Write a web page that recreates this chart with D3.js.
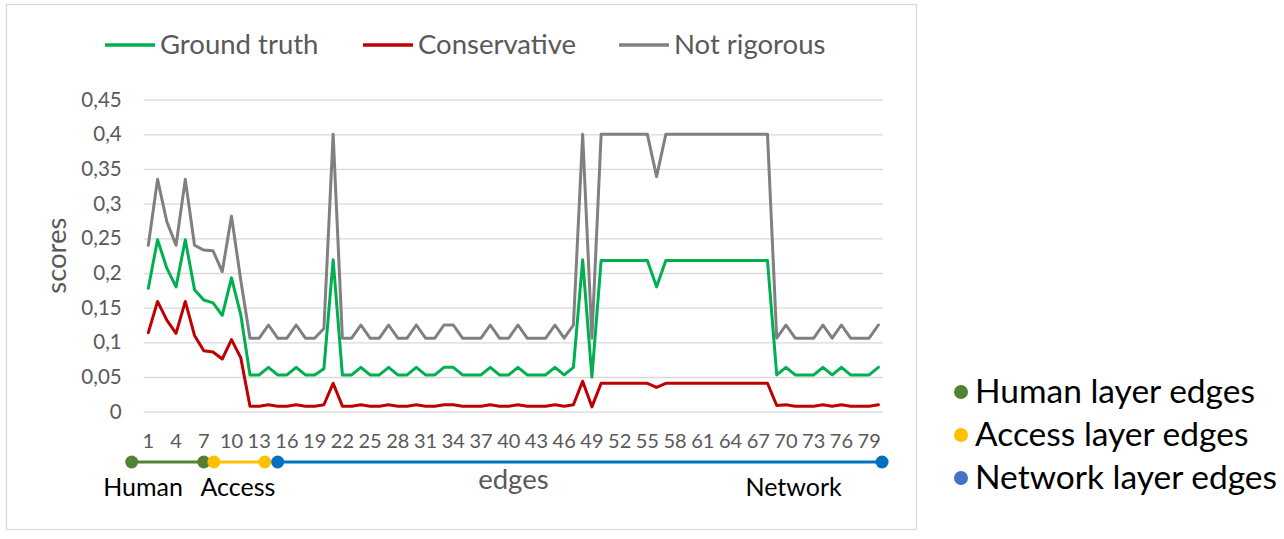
<!DOCTYPE html>
<html><head><meta charset="utf-8">
<script src="https://cdn.jsdelivr.net/npm/d3@7"></script>
<style>
body{margin:0;background:#fff;}
svg{display:block;}
text{font-family:Lato, "Open Sans", sans-serif;}
</style>
</head><body>
<svg id="c" width="1284" height="539"></svg>
<script>
// ---------- data ----------
const edges = [1,2,3,4,5,6,7,8,9,10,11,12,13,14,15,16,17,18,19,20,
  21,22,23,24,25,26,27,28,29,30,31,32,33,34,35,36,37,38,39,40,
  41,42,43,44,45,46,47,48,49,50,51,52,53,54,55,56,57,58,59,60,
  61,62,63,64,65,66,67,68,69,70,71,72,73,74,75,76,77,78,79,80];
const xTickLabels = [1,4,7,10,13,16,19,22,25,28,31,34,37,40,43,46,49,52,55,58,61,64,67,70,73,76,79];
const yTicks = [0,0.05,0.1,0.15,0.2,0.25,0.3,0.35,0.4,0.45];
const yTickLabels = ["0","0,05","0,1","0,15","0,2","0,25","0,3","0,35","0,4","0,45"];

const groundTruth = [0.178,0.248,0.207,0.180,0.248,0.176,0.161,0.157,0.139,0.193,
  0.140,0.053,0.053,0.064,0.053,0.053,0.064,0.053,0.053,0.062,
  0.219,0.053,0.053,0.064,0.053,0.053,0.064,0.053,0.053,0.064,
  0.053,0.053,0.064,0.064,0.053,0.053,0.053,0.064,0.053,0.053,
  0.064,0.053,0.053,0.053,0.064,0.053,0.064,0.219,0.050,0.218,
  0.218,0.218,0.218,0.218,0.218,0.180,0.218,0.218,0.218,0.218,
  0.218,0.218,0.218,0.218,0.218,0.218,0.218,0.218,0.053,0.064,
  0.053,0.053,0.053,0.064,0.053,0.064,0.053,0.053,0.053,0.064];
const conservative = [0.114,0.159,0.132,0.113,0.159,0.110,0.088,0.086,0.076,0.104,
  0.078,0.008,0.008,0.010,0.008,0.008,0.010,0.008,0.008,0.010,
  0.041,0.008,0.008,0.010,0.008,0.008,0.010,0.008,0.008,0.010,
  0.008,0.008,0.010,0.010,0.008,0.008,0.008,0.010,0.008,0.008,
  0.010,0.008,0.008,0.008,0.010,0.008,0.010,0.044,0.007,0.041,
  0.041,0.041,0.041,0.041,0.041,0.035,0.041,0.041,0.041,0.041,
  0.041,0.041,0.041,0.041,0.041,0.041,0.041,0.041,0.009,0.010,
  0.008,0.008,0.008,0.010,0.008,0.010,0.008,0.008,0.008,0.010];
const notRigorous = [0.240,0.335,0.274,0.240,0.335,0.240,0.233,0.232,0.202,0.282,
  0.190,0.106,0.106,0.125,0.106,0.106,0.125,0.106,0.106,0.120,
  0.400,0.106,0.106,0.125,0.106,0.106,0.125,0.106,0.106,0.125,
  0.106,0.106,0.125,0.125,0.106,0.106,0.106,0.125,0.106,0.106,
  0.125,0.106,0.106,0.106,0.125,0.106,0.125,0.400,0.106,0.400,
  0.400,0.400,0.400,0.400,0.400,0.339,0.400,0.400,0.400,0.400,
  0.400,0.400,0.400,0.400,0.400,0.400,0.400,0.400,0.106,0.125,
  0.106,0.106,0.106,0.125,0.106,0.125,0.106,0.106,0.106,0.125];

const seriesNames = ["Ground truth","Conservative","Not rigorous"];
const seriesColors = ["#00B050","#C00000","#808080"];

// layer annotation (in edge-index units)
const layerNames = ["Human","Access","Network"];
const layerStart = [-0.8, 8.1, 15];
const layerEnd = [7, 13.6, 80.4];
const layerLabelAt = [0.43, 10.7, 70.83];
const layerBarColors = ["#548235","#FFC000","#0070C0"];
const layerLegend = ["Human layer edges","Access layer edges","Network layer edges"];
const layerLegendColors = ["#548235","#FFC000","#4472C4"];

// ---------- layout ----------
const svg = d3.select("#c");
const L = 143.7, R = 883, T = 99.6, B = 411.7;

svg.append("rect").attr("x",6.5).attr("y",4.5).attr("width",910).attr("height",525)
  .attr("fill","#fff").attr("stroke","#D9D9D9").attr("stroke-width",1.3);

const x = d3.scaleBand().domain(edges).range([L,R]).padding(0);
const xc = d => x(d) + x.bandwidth()/2;
const y = d3.scaleLinear().domain([0,0.45]).range([B,T]);
const xLin = d3.scaleLinear().domain([1,80]).range([xc(1), xc(80)]);

// gridlines via axis
const yAxis = svg.append("g").attr("transform",`translate(${L},0)`)
  .call(d3.axisLeft(y).tickValues(yTicks).tickSize(-(R-L)).tickFormat((d,i)=>yTickLabels[i]));
yAxis.select(".domain").remove();
yAxis.selectAll(".tick line").attr("stroke","#D9D9D9").attr("stroke-width",1.3);
yAxis.selectAll(".tick text").attr("x",-22).attr("fill","#595959")
  .style("font-size","20.5px").style("font-family","Lato");

// x axis labels
const xAxis = svg.append("g").attr("transform",`translate(0,${B})`)
  .call(d3.axisBottom(x).tickValues(xTickLabels).tickSize(0).tickPadding(0));
xAxis.select(".domain").remove();
xAxis.selectAll(".tick text").attr("y",22).attr("dy","0.71em").attr("fill","#595959")
  .style("font-size","20px").style("font-family","Lato");

// lines
const data = [groundTruth, conservative, notRigorous];
const line = d3.line().x((d,i)=>xc(edges[i])).y(d=>y(d));
data.forEach((s,k)=>{
  svg.append("path").datum(s).attr("d",line).attr("fill","none")
    .attr("stroke",seriesColors[k]).attr("stroke-width",3)
    .attr("stroke-linejoin","round").attr("stroke-linecap","round");
});

// top legend
const legX = [105, 363, 619];
seriesNames.forEach((n,k)=>{
  const g = svg.append("g");
  g.append("line").attr("x1",legX[k]).attr("x2",legX[k]+50).attr("y1",45).attr("y2",45)
    .attr("stroke",seriesColors[k]).attr("stroke-width",3.5);
  g.append("text").attr("x",legX[k]+55).attr("y",54).text(n)
    .attr("fill","#595959").style("font-size","27.5px");
});

// y title
svg.append("text").attr("transform",`translate(66,${(T+B)/2}) rotate(-90)`)
  .attr("text-anchor","middle").attr("fill","#595959").style("font-size","27.5px").text("scores");

// x title
svg.append("text").attr("x",(L+R)/2).attr("y",489).attr("text-anchor","middle")
  .attr("fill","#595959").style("font-size","27.5px").text("edges");

// layer bar
const barY = 462;
layerNames.forEach((n,k)=>{
  svg.append("line").attr("x1",xLin(layerStart[k])).attr("x2",xLin(layerEnd[k]))
    .attr("y1",barY).attr("y2",barY).attr("stroke",layerBarColors[k]).attr("stroke-width",3);
});
layerNames.forEach((n,k)=>{
  [layerStart[k], layerEnd[k]].forEach(v=>{
    svg.append("circle").attr("cx",xLin(v)).attr("cy",barY).attr("r",6.5).attr("fill",layerBarColors[k]);
  });
  svg.append("text").attr("x",xLin(layerLabelAt[k])).attr("y",496).attr("text-anchor","middle")
    .attr("fill","#000").style("font-size","25px").text(n);
});

// right legend
const rBase = [403, 446, 489];
layerLegend.forEach((n,k)=>{
  svg.append("circle").attr("cx",961).attr("cy",rBase[k]-11).attr("r",7).attr("fill",layerLegendColors[k]);
  svg.append("text").attr("x",975).attr("y",rBase[k]).attr("fill","#000")
    .style("font-size","33.5px").text(n);
});
</script>
</body></html>
